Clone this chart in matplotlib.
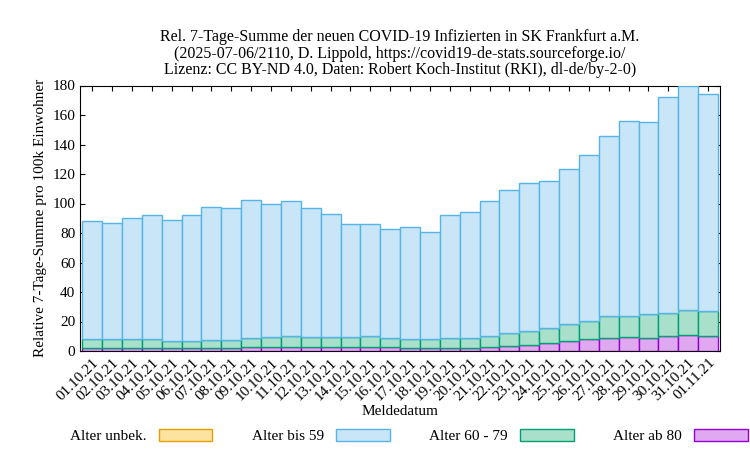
import numpy as np
import matplotlib
matplotlib.use('Agg')
import matplotlib.pyplot as plt
from matplotlib.patches import Patch

plt.rcParams['font.family'] = ['Liberation Serif', 'DejaVu Serif']

dates = ['01.10.21', '02.10.21', '03.10.21', '04.10.21', '05.10.21', '06.10.21', '07.10.21', '08.10.21',
         '09.10.21', '10.10.21', '11.10.21', '12.10.21', '13.10.21', '14.10.21', '15.10.21', '16.10.21',
         '17.10.21', '18.10.21', '19.10.21', '20.10.21', '21.10.21', '22.10.21', '23.10.21', '24.10.21',
         '25.10.21', '26.10.21', '27.10.21', '28.10.21', '29.10.21', '30.10.21', '31.10.21', '01.11.21']

# values per age group (stacked, per 100k)
age_80 = [2, 2, 2, 2, 2, 2, 2, 2, 2.5, 2.5, 2.5, 2.5, 2.5, 2.5, 2.5, 2.5,
          2, 2, 2, 2, 2.5, 3.5, 4, 5.5, 7, 8, 9, 9.5, 9, 10.5, 11, 10.5]
age_60_79 = [6, 6, 6, 6, 5, 5, 5.5, 5.5, 6.5, 7, 7.5, 7, 7, 7, 7.5, 6,
             6, 6, 6.5, 6.5, 8, 9, 9.5, 10, 11, 12.5, 14.5, 14.5, 16, 15.5, 17, 16.5]
age_0_59 = [80, 79, 82.5, 84.5, 82, 85, 90, 89.5, 93.5, 90.5, 92, 87.5, 83.5, 76.5, 76, 74,
            76, 73, 83.5, 86, 91, 96.5, 100.5, 100, 105.5, 112.5, 122, 132, 130.5, 146, 152, 147]
age_unk = [0] * 32

x = np.arange(len(dates))
fig, ax = plt.subplots(figsize=(7.5, 4.5), dpi=100)
fig.subplots_adjust(left=0.107, right=0.96, top=0.81, bottom=0.22)

b1 = np.array(age_80, dtype=float)
b2 = b1 + np.array(age_60_79)
b3 = b2 + np.array(age_0_59)
kw = dict(width=1.0, align='center', linewidth=1)
ax.bar(x, age_80, color='#e0a8f0', edgecolor='#9400d3', zorder=3, **kw)
ax.bar(x, age_60_79, bottom=b1, color='#a8e0cc', edgecolor='#009e73', zorder=3, **kw)
ax.bar(x, age_0_59, bottom=b2, color='#c8e6f8', edgecolor='#56b4e9', zorder=3, **kw)
unk = np.array(age_unk, dtype=float)
if unk.any():
    ax.bar(x[unk > 0], unk[unk > 0], bottom=b3[unk > 0], color='#fde3a0', edgecolor='#e69f00', zorder=3, **kw)

ax.set_xlim(-0.6, len(dates) - 0.4)
ax.set_ylim(0, 180)
ax.set_yticks(range(0, 181, 20))
ax.set_xticks(x)
ax.set_xticklabels(dates, rotation=45, ha='right', rotation_mode='anchor', fontsize=11)
ax.tick_params(axis='both', direction='in', top=True, right=True, labelsize=11)
ax.set_ylabel('Relative 7-Tage-Summe pro 100k Einwohner', fontsize=11)
ax.set_xlabel('Meldedatum', fontsize=11, labelpad=2)
ax.set_title('Rel. 7-Tage-Summe der neuen COVID-19 Infizierten in SK Frankfurt a.M.\n'
             '(2025-07-06/2110, D. Lippold, https://covid19-de-stats.sourceforge.io/\n'
             'Lizenz: CC BY-ND 4.0, Daten: Robert Koch-Institut (RKI), dl-de/by-2-0)',
             fontsize=11.5, linespacing=1.05, pad=8)

handles = [Patch(facecolor='#fde3a0', edgecolor='#e69f00', label='Alter unbek.'),
           Patch(facecolor='#c8e6f8', edgecolor='#56b4e9', label='Alter bis 59'),
           Patch(facecolor='#a8e0cc', edgecolor='#009e73', label='Alter 60 - 79'),
           Patch(facecolor='#e0a8f0', edgecolor='#9400d3', label='Alter ab 80')]
fig.legend(handles=handles, loc='lower center', ncol=4, frameon=False, markerfirst=False,
           fontsize=11, bbox_to_anchor=(0.545, -0.015), columnspacing=2.6, handlelength=3.5,
           handleheight=0.8, handletextpad=0.8)

fig.savefig('out.png', dpi=100)
